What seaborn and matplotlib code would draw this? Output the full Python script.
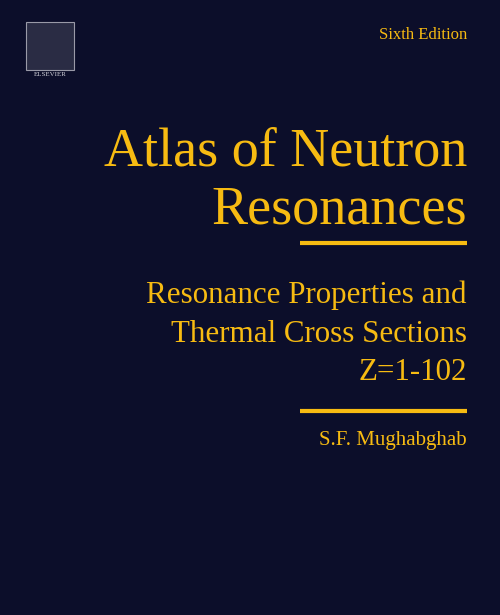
import matplotlib
matplotlib.use("Agg")
import matplotlib.pyplot as plt
import seaborn as sns
from matplotlib.patches import Rectangle

sns.set_theme(style="white")
plt.rcParams['font.family'] = ['Liberation Serif', 'DejaVu Serif']

edition = "Sixth Edition"
title_lines = ["Atlas of Neutron", "Resonances"]
subtitle_lines = ["Resonance Properties and", "Thermal Cross Sections", "Z=1-102"]
author = "S.F. Mughabghab"
publisher = "ELSEVIER"

BG = "#0c0e2a"
YEL = "#f7bb12"
W, H = 500, 615

fig = plt.figure(figsize=(5, 6.15), dpi=100, facecolor=BG)
ax = fig.add_axes([0, 0, 1, 1])
ax.set_facecolor(BG)
ax.set_xlim(0, W); ax.set_ylim(H, 0); ax.axis("off")

# logo
ax.add_patch(Rectangle((26, 22), 48, 48, facecolor="#2a2c44", edgecolor="#9a9aa8", lw=0.8))
ax.text(50, 75, publisher, color="#d0d0d8", fontsize=5, ha="center", va="center")

ax.text(467, 35, edition, color=YEL, fontsize=12, ha="right", va="center")
for y, t in zip([152, 210], title_lines):
    ax.text(467, y, t, color=YEL, fontsize=39, ha="right", va="center")
ax.plot([300, 467], [243, 243], color=YEL, lw=3, solid_capstyle="butt")
for y, t in zip([295, 334, 372], subtitle_lines):
    ax.text(467, y, t, color=YEL, fontsize=22.3, ha="right", va="center")
ax.plot([300, 467], [411, 411], color=YEL, lw=3, solid_capstyle="butt")
ax.text(467, 440, author, color=YEL, fontsize=15, ha="right", va="center")

fig.savefig("out.png", dpi=100, facecolor=BG)
